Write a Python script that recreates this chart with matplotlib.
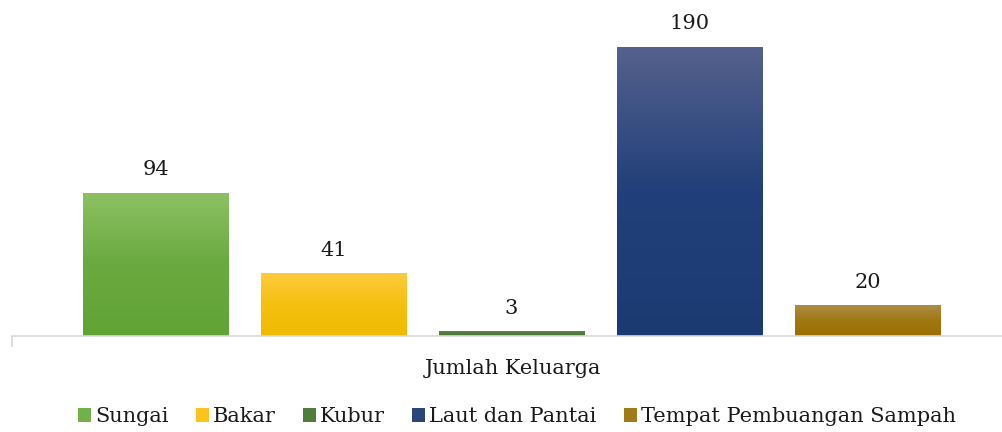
import numpy as np
import matplotlib.pyplot as plt
from matplotlib.colors import LinearSegmentedColormap
from matplotlib.patches import Patch

categories = ['Sungai', 'Bakar', 'Kubur', 'Laut dan Pantai', 'Tempat Pembuangan Sampah']
values = [94, 41, 3, 190, 20]
# gradient colours: top, middle, bottom
top_colors = ['#8cc163', '#ffcb3d', '#5d8747', '#54618c', '#ad8c45']
mid_colors = ['#6aa93f', '#f5c010', '#4e7a38', '#213f7a', '#a07812']
bottom_colors = ['#62a336', '#f0bb00', '#4a7534', '#1c3a72', '#9b7000']
legend_colors = ['#72b04a', '#fbc31e', '#507d3a', '#2b447a', '#a17a1a']

plt.rcParams['font.family'] = ['DejaVu Serif']

fig = plt.figure(figsize=(10.03, 4.32), dpi=100)
ax = fig.add_axes([12 / 1003, (432 - 336) / 432, 991 / 1003, 336 / 432])

x = np.arange(len(categories))
width = 0.815

grad = np.linspace(0, 1, 256).reshape(-1, 1)
for i, v in enumerate(values):
    cmap = LinearSegmentedColormap.from_list(
        'g%d' % i, [(0, bottom_colors[i]), (0.5, mid_colors[i]), (1, top_colors[i])])
    ax.imshow(grad, cmap=cmap, origin='lower', aspect='auto',
              extent=[x[i] - width / 2, x[i] + width / 2, 0, v], zorder=2)
    ax.annotate(str(v), (x[i], v), xytext=(0, 10), textcoords='offset points',
                ha='center', va='bottom', fontsize=15, color='#1a1a1a')

ax.set_xlim(-0.806, 4.761)
ax.set_ylim(0, 221)
for s in ['top', 'right', 'left']:
    ax.spines[s].set_visible(False)
ax.spines['bottom'].set_color('#d9d9d9')
ax.spines['bottom'].set_linewidth(1.2)
ax.set_yticks([])
ax.set_xticks([-0.806])
ax.tick_params(axis='x', length=8, color='#d9d9d9', width=1.2, labelbottom=False)

fig.text(513 / 1003, 1 - 368 / 432, 'Jumlah Keluarga', ha='center', va='center',
         fontsize=15, color='#1a1a1a')

handles = [Patch(facecolor=c, edgecolor='none') for c in legend_colors]
fig.legend(handles, categories, loc='center', bbox_to_anchor=(517 / 1003, 1 - 417 / 432),
           ncol=5, frameon=False, fontsize=15, handlelength=0.62, handleheight=0.62,
           handletextpad=0.2, columnspacing=1.3, borderaxespad=0, labelcolor='#1a1a1a')

fig.savefig('out.png', dpi=100)
